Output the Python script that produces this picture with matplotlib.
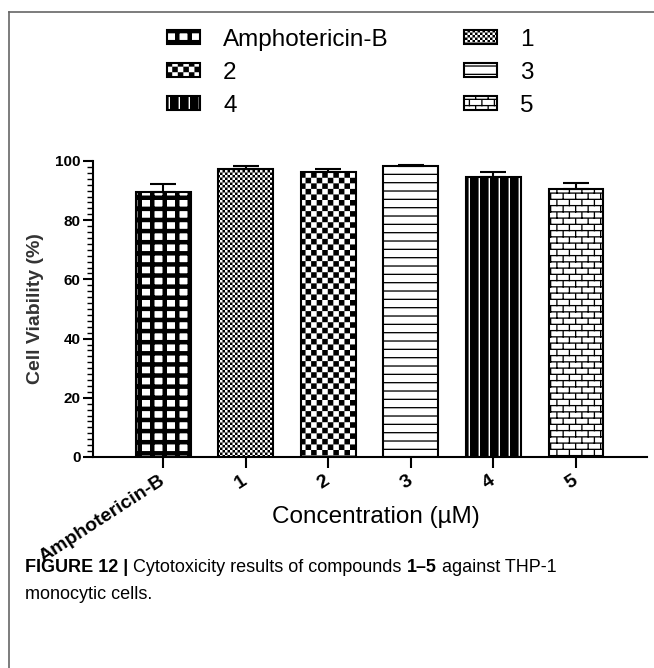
import warnings
warnings.filterwarnings('ignore')
import matplotlib
matplotlib.use('Agg')
import matplotlib.pyplot as plt
import matplotlib.hatch as mhatch
from matplotlib.path import Path
from matplotlib.lines import Line2D
import numpy as np

# ---------------- data ----------------
categories = ['Amphotericin-B', '1', '2', '3', '4', '5']
viability = [89.5, 97.4, 96.4, 98.3, 94.7, 90.5]
err_upper = [2.8, 1.0, 0.9, 0.5, 1.5, 2.0]
yticks = [0, 20, 40, 60, 80, 100]
legend_order = ['Amphotericin-B', '2', '4', '1', '3', '5']

# ---------------- custom hatch patterns ----------------
def _rects_path(rects):
    verts, codes = [], []
    for x0, y0, x1, y1 in rects:
        verts += [(x0, y0), (x1, y0), (x1, y1), (x0, y1), (x0, y0)]
        codes += [Path.MOVETO, Path.LINETO, Path.LINETO, Path.LINETO, Path.CLOSEPOLY]
    return np.array(verts, float), np.array(codes, dtype=Path.code_type)


class _RectHatch(mhatch.HatchPatternBase):
    char = None

    def __init__(self, hatch, density):
        if self.char in hatch:
            self.verts, self.codes = _rects_path(self.make_rects())
            self.num_vertices = len(self.verts)
        else:
            self.num_vertices = 0

    def set_vertices_and_codes(self, vertices, codes):
        vertices[:] = self.verts
        codes[:] = self.codes


class GridHatch(_RectHatch):          # Amphotericin-B : black grid, white squares
    char = 'A'

    def make_rects(self):
        r = []
        nx, ny, w = 8, 9, 0.045
        for i in range(nx):
            r.append((i / nx, 0, i / nx + w, 1))
        for j in range(ny):
            r.append((0, j / ny, 1, j / ny + w))
        return r


class FineCheckHatch(_RectHatch):     # 1 : fine checkerboard
    char = 'B'

    def make_rects(self):
        n = 40
        s = 1.0 / n
        return [(i * s, j * s, (i + 1) * s, (j + 1) * s)
                for i in range(n) for j in range(n) if (i + j) % 2 == 0]


class CheckHatch(_RectHatch):         # 2 : checkerboard
    char = 'C'

    def make_rects(self):
        n = 18
        s = 1.0 / n
        return [(i * s, j * s, (i + 1) * s, (j + 1) * s)
                for i in range(n) for j in range(n) if (i + j) % 2 == 0]


class HLineHatch(_RectHatch):         # 3 : horizontal lines
    char = 'D'

    def make_rects(self):
        n, t = 12, 0.013
        return [(0, j / n, 1, j / n + t) for j in range(n)]


class VBlackHatch(_RectHatch):        # 4 : black with thin white vertical lines
    char = 'E'

    def make_rects(self):
        n, w = 10, 0.086
        return [(i / n, 0, i / n + w, 1) for i in range(n)]


class BrickHatch(_RectHatch):         # 5 : bricks
    char = 'F'

    def make_rects(self):
        nx, ny, t = 8, 16, 0.013
        r = []
        for j in range(ny):
            y0 = j / ny
            r.append((0, y0, 1, y0 + t))
            off = 0 if j % 2 == 0 else 0.5 / nx
            for i in range(nx):
                x0 = i / nx + off
                r.append((x0, y0, x0 + t, y0 + 1 / ny))
        return r


mhatch._hatch_types.extend([GridHatch, FineCheckHatch, CheckHatch,
                            HLineHatch, VBlackHatch, BrickHatch])
hatches = ['A', 'B', 'C', 'D', 'E', 'F']

plt.rcParams['hatch.linewidth'] = 0.0
plt.rcParams['hatch.color'] = 'black'
plt.rcParams['font.family'] = ['Liberation Sans', 'DejaVu Sans']

# ---------------- figure ----------------
W, H = 654, 668
fig = plt.figure(figsize=(W / 100, H / 100), dpi=100)

# frame lines of the figure panel
fig.add_artist(Line2D([9 / W, 1], [1 - 12 / H, 1 - 12 / H], transform=fig.transFigure,
                      color='#666666', lw=1.2))
fig.add_artist(Line2D([9 / W, 9 / W], [0, 1 - 12 / H], transform=fig.transFigure,
                      color='#666666', lw=1.2))

ax = fig.add_axes([93 / W, 1 - 457 / H, (647 - 93) / W, (457 - 161) / H])
x = np.arange(len(categories))
bars = ax.bar(x, viability, width=0.665, color='white', edgecolor='black',
              linewidth=1.5, label=categories, zorder=2)
for b, h in zip(bars, hatches):
    b.set_hatch(h)
ax.errorbar(x, viability, yerr=[np.zeros(len(x)), err_upper], fmt='none',
            ecolor='black', elinewidth=1.5, capsize=9.5, capthick=1.5, zorder=3)

ax.set_xlim(-0.85, 5.86)
ax.set_ylim(0, 100)
ax.set_yticks(yticks)
ax.set_yticks(np.arange(0, 101, 2), minor=True)
ax.set_xticks(x)
ax.set_xticklabels(categories, rotation=33, ha='right', va='center',
                   rotation_mode='anchor', fontsize=14, fontweight='bold')
for lbl in ax.get_yticklabels():
    lbl.set_fontweight('bold')
    lbl.set_fontsize(11)
ax.tick_params(axis='y', which='major', length=7, width=1.5, direction='out', pad=2)
ax.tick_params(axis='y', which='minor', length=4, width=1.0, direction='out')
ax.tick_params(axis='x', which='major', length=8, width=1.5, direction='out', pad=8)
ax.tick_params(axis='x', which='minor', bottom=False)
for s in ['top', 'right']:
    ax.spines[s].set_visible(False)
for s in ['left', 'bottom']:
    ax.spines[s].set_linewidth(1.5)

ax.set_ylabel('Cell Viability (%)', fontsize=14, fontweight='bold', color='#333333',
              labelpad=8)
ax.set_xlabel('Concentration (µM)', fontsize=17.5)
ax.xaxis.set_label_coords(0.511, -0.165)

# legend (row-major order as in reference)
hmap = dict(zip(categories, bars))
fig.legend([hmap[k] for k in legend_order], legend_order, ncol=2, loc='upper left',
           bbox_to_anchor=(167 / W, 1 - 29 / H), frameon=False, fontsize=17.5,
           handlelength=1.36, handleheight=0.5, handletextpad=0.95,
           columnspacing=3.1, labelspacing=0.45, borderpad=0, borderaxespad=0)

# caption with mixed weights
cap_fam = ['Liberation Sans Narrow', 'Liberation Sans']
cap_size = 13
pieces1 = [('FIGURE 12 |', 'bold'), (' Cytotoxicity results of compounds ', 'normal'),
           ('1\u20135', 'bold'), (' against THP-1', 'normal')]
fig.canvas.draw()
renderer = fig.canvas.get_renderer()
probe = fig.text(0, 0, 'a a', fontsize=cap_size, family=cap_fam)
probe2 = fig.text(0, 0, 'aa', fontsize=cap_size, family=cap_fam)
sp = probe.get_window_extent(renderer).width - probe2.get_window_extent(renderer).width
probe.remove()
probe2.remove()
xpos = 25
for txt, wt in pieces1:
    lead = len(txt) - len(txt.lstrip(' '))
    trail = len(txt) - len(txt.rstrip(' '))
    xpos += lead * sp
    t = fig.text(xpos / W, 1 - 572 / H, txt.strip(' '), fontsize=cap_size,
                 fontweight=wt, family=cap_fam, va='baseline', ha='left')
    xpos += t.get_window_extent(renderer).width + trail * sp
fig.text(25 / W, 1 - 599 / H, 'monocytic cells.', fontsize=cap_size, family=cap_fam,
         va='baseline', ha='left')

fig.savefig('out.png', dpi=100)
